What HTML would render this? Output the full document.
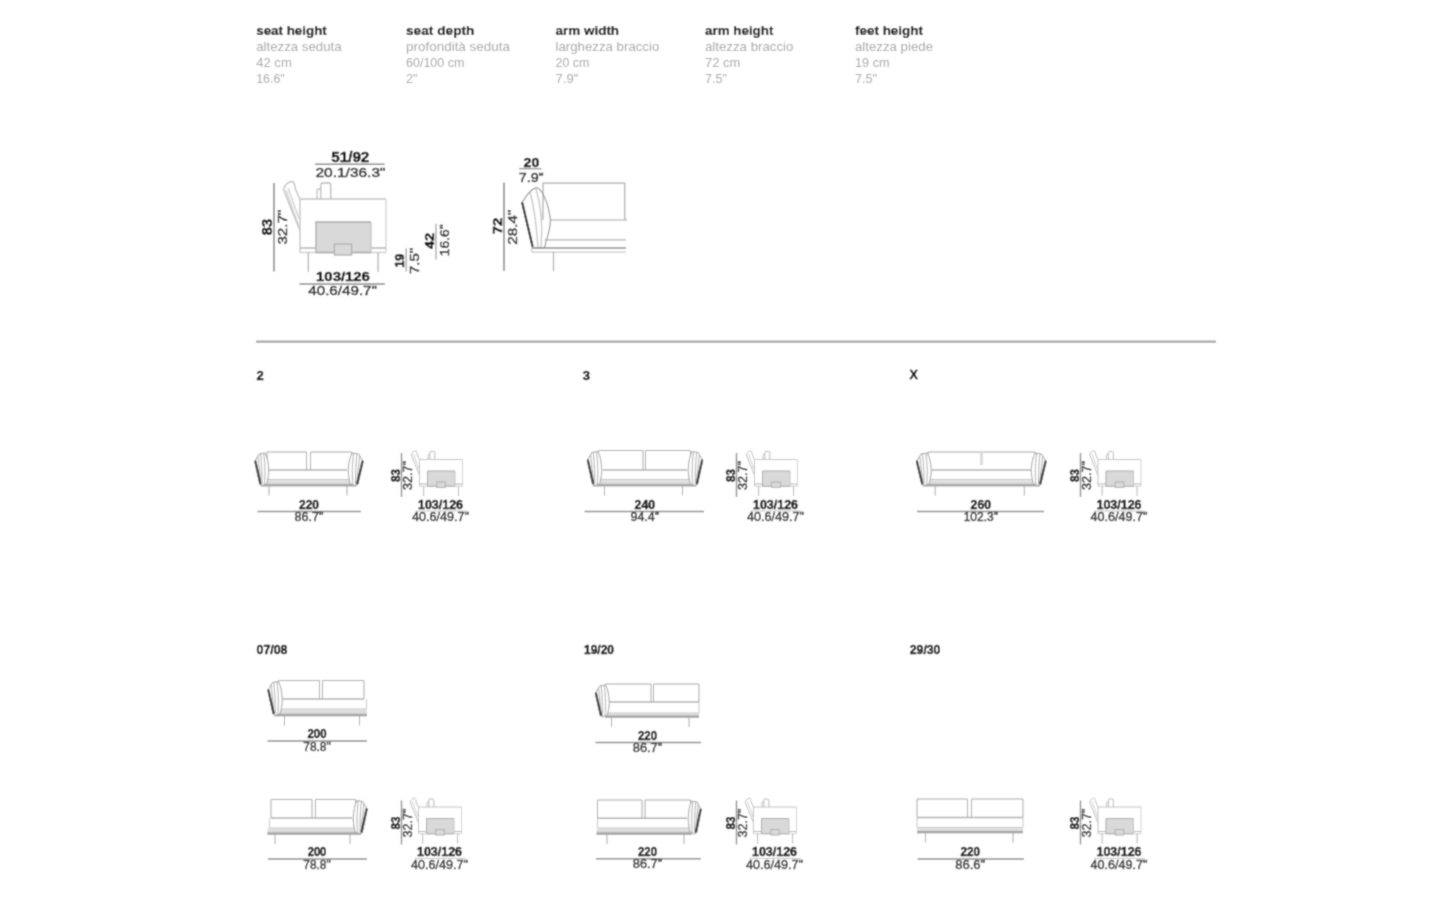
<!DOCTYPE html><html><head><meta charset="utf-8"><style>html,body{margin:0;padding:0;background:#fff;}svg{display:block;}</style></head><body>
<svg width="1440" height="900" viewBox="0 0 1440 900" font-family='"Liberation Sans", sans-serif'>
<defs><linearGradient id="band" x1="0" y1="0" x2="0" y2="1"><stop offset="0" stop-color="#ececec"/><stop offset="0.6" stop-color="#d4d4d4"/><stop offset="1" stop-color="#b4b4b4"/></linearGradient></defs>
<filter id="bl" x="0" y="0" width="1440" height="900" filterUnits="userSpaceOnUse"><feConvolveMatrix order="3" kernelMatrix="1 2 1 2 8 2 1 2 1" divisor="20" edgeMode="duplicate" preserveAlpha="false"/></filter>
<rect width="1440" height="900" fill="#ffffff"/>
<g filter="url(#bl)"><rect width="1440" height="900" fill="#ffffff"/>
<text x="256.2" y="35" font-size="13.4" font-weight="bold" fill="#000" text-anchor="start" textLength="70.6" lengthAdjust="spacingAndGlyphs" stroke="#000" stroke-width="0.15">seat height</text>
<text x="256.2" y="51" font-size="12.6" font-weight="normal" fill="#a6a6a6" text-anchor="start" textLength="85.4" lengthAdjust="spacingAndGlyphs">altezza seduta</text>
<text x="256.2" y="67" font-size="12.8" font-weight="normal" fill="#a6a6a6" text-anchor="start" textLength="35.6" lengthAdjust="spacingAndGlyphs">42 cm</text>
<text x="256.2" y="83" font-size="12.8" font-weight="normal" fill="#a6a6a6" text-anchor="start" textLength="28.5" lengthAdjust="spacingAndGlyphs">16.6&quot;</text>
<text x="406.0" y="35" font-size="13.4" font-weight="bold" fill="#000" text-anchor="start" textLength="68.4" lengthAdjust="spacingAndGlyphs" stroke="#000" stroke-width="0.15">seat depth</text>
<text x="406.0" y="51" font-size="12.6" font-weight="normal" fill="#a6a6a6" text-anchor="start" textLength="104.0" lengthAdjust="spacingAndGlyphs">profondità seduta</text>
<text x="406.0" y="67" font-size="12.8" font-weight="normal" fill="#a6a6a6" text-anchor="start" textLength="58.4" lengthAdjust="spacingAndGlyphs">60/100 cm</text>
<text x="406.0" y="83" font-size="12.8" font-weight="normal" fill="#a6a6a6" text-anchor="start" textLength="11.5" lengthAdjust="spacingAndGlyphs">2&quot;</text>
<text x="555.5" y="35" font-size="13.4" font-weight="bold" fill="#000" text-anchor="start" textLength="63.6" lengthAdjust="spacingAndGlyphs" stroke="#000" stroke-width="0.15">arm width</text>
<text x="555.5" y="51" font-size="12.6" font-weight="normal" fill="#a6a6a6" text-anchor="start" textLength="103.8" lengthAdjust="spacingAndGlyphs">larghezza braccio</text>
<text x="555.5" y="67" font-size="12.8" font-weight="normal" fill="#a6a6a6" text-anchor="start" textLength="33.8" lengthAdjust="spacingAndGlyphs">20 cm</text>
<text x="555.5" y="83" font-size="12.8" font-weight="normal" fill="#a6a6a6" text-anchor="start" textLength="22.8" lengthAdjust="spacingAndGlyphs">7.9&quot;</text>
<text x="705.0" y="35" font-size="13.4" font-weight="bold" fill="#000" text-anchor="start" textLength="68.4" lengthAdjust="spacingAndGlyphs" stroke="#000" stroke-width="0.15">arm height</text>
<text x="705.0" y="51" font-size="12.6" font-weight="normal" fill="#a6a6a6" text-anchor="start" textLength="88.4" lengthAdjust="spacingAndGlyphs">altezza braccio</text>
<text x="705.0" y="67" font-size="12.8" font-weight="normal" fill="#a6a6a6" text-anchor="start" textLength="35.2" lengthAdjust="spacingAndGlyphs">72 cm</text>
<text x="705.0" y="83" font-size="12.8" font-weight="normal" fill="#a6a6a6" text-anchor="start" textLength="22.0" lengthAdjust="spacingAndGlyphs">7.5&quot;</text>
<text x="855.0" y="35" font-size="13.4" font-weight="bold" fill="#000" text-anchor="start" textLength="68.0" lengthAdjust="spacingAndGlyphs" stroke="#000" stroke-width="0.15">feet height</text>
<text x="855.0" y="51" font-size="12.6" font-weight="normal" fill="#a6a6a6" text-anchor="start" textLength="78.0" lengthAdjust="spacingAndGlyphs">altezza piede</text>
<text x="855.0" y="67" font-size="12.8" font-weight="normal" fill="#a6a6a6" text-anchor="start" textLength="34.6" lengthAdjust="spacingAndGlyphs">19 cm</text>
<text x="855.0" y="83" font-size="12.8" font-weight="normal" fill="#a6a6a6" text-anchor="start" textLength="22.0" lengthAdjust="spacingAndGlyphs">7.5&quot;</text>
<g transform="translate(300,199) scale(1.0)" fill="none" stroke="#c0c0c0" stroke-width="1.3">
<path d="M-0.3,31 L-16.6,-9.6 C-15,-15 -11,-17.5 -8.3,-17.5 C-6,-17.5 -5,-14 -4.7,-10.3 L-0.3,-0.2" stroke="#bdbdbd"/>
<path d="M-14.2,-9 L-1.6,26 M-12,-11 L-0.8,20" stroke="#cdcdcd"/>
<path d="M0,53.5 L0,0 L86,0" stroke="#c2c2c2"/>
<path d="M86,0 L86,53.5" stroke="#d2d2d2"/>
<path d="M0,49 L16,49 M71,49 L86,49" stroke="#b4b4b4"/>
<path d="M0,53.5 L86,53.5" stroke="#d0d0d0"/>
<rect x="16" y="23" width="55" height="30.5" fill="#d9d9d9" stroke="none"/>
<path d="M16,53.5 L16,23 L71,23 M16,53.5 L71,53.5" stroke="#a9a9a9"/>
<path d="M71,23 L71,53.5" stroke="#c4c4c4"/>
<rect x="34.4" y="45" width="17.2" height="11" fill="#d9d9d9" stroke="#b0b0b0"/>
<path d="M20.8,0 L20.8,-14 Q20.8,-16 22.8,-16 L28.7,-16 Q30.7,-16 30.7,-14 L30.7,0" stroke="#b8b8b8"/>
<path d="M17,0 L17,-9 Q17,-10 18,-10 L21,-10" stroke="#c0c0c0"/>
<path d="M8.3,53.5 L8.3,73 M78.1,53.5 L78.1,73" stroke="#b4b4b4"/>
</g>
<line x1="274" y1="183" x2="274" y2="271.5" stroke="#8a8a8a" stroke-width="1.6"/>
<text transform="translate(271.8,235.2) rotate(-90)" font-size="13.8" font-weight="bold" fill="#050505" text-anchor="start" textLength="16.2" lengthAdjust="spacingAndGlyphs" stroke="#050505" stroke-width="0.4">83</text>
<text transform="translate(287.0,244.6) rotate(-90)" font-size="13.4" font-weight="normal" fill="#262626" text-anchor="start" textLength="35" lengthAdjust="spacingAndGlyphs" stroke="#262626" stroke-width="0.45">32.7&quot;</text>
<text x="350.3" y="161.9" font-size="13.8" font-weight="bold" fill="#050505" text-anchor="middle" textLength="38" lengthAdjust="spacingAndGlyphs" stroke="#050505" stroke-width="0.4">51/92</text>
<line x1="315" y1="164.2" x2="384.5" y2="164.2" stroke="#8a8a8a" stroke-width="1.4"/>
<text x="350.5" y="176.7" font-size="13.6" font-weight="normal" fill="#262626" text-anchor="middle" textLength="70" lengthAdjust="spacingAndGlyphs" stroke="#262626" stroke-width="0.45">20.1/36.3&quot;</text>
<text x="343" y="280.8" font-size="13" font-weight="bold" fill="#050505" text-anchor="middle" textLength="53.8" lengthAdjust="spacingAndGlyphs" stroke="#050505" stroke-width="0.4">103/126</text>
<line x1="299.5" y1="284" x2="385" y2="284" stroke="#8a8a8a" stroke-width="1.4"/>
<text x="342.6" y="295.4" font-size="13" font-weight="normal" fill="#262626" text-anchor="middle" textLength="68.7" lengthAdjust="spacingAndGlyphs" stroke="#262626" stroke-width="0.45">40.6/49.7&quot;</text>
<line x1="406.2" y1="248.3" x2="406.2" y2="271.4" stroke="#9a9a9a" stroke-width="1.2"/>
<text transform="translate(403.6,267.8) rotate(-90)" font-size="13.5" font-weight="bold" fill="#050505" text-anchor="start" textLength="14.2" lengthAdjust="spacingAndGlyphs" stroke="#050505" stroke-width="0.4">19</text>
<text transform="translate(419,274) rotate(-90)" font-size="13.2" font-weight="normal" fill="#262626" text-anchor="start" textLength="26" lengthAdjust="spacingAndGlyphs" stroke="#262626" stroke-width="0.45">7.5&quot;</text>
<line x1="436" y1="223.8" x2="436" y2="259.8" stroke="#9a9a9a" stroke-width="1.2"/>
<text transform="translate(434.3,249.1) rotate(-90)" font-size="13.5" font-weight="bold" fill="#050505" text-anchor="start" textLength="16.4" lengthAdjust="spacingAndGlyphs" stroke="#050505" stroke-width="0.4">42</text>
<text transform="translate(449.4,256.3) rotate(-90)" font-size="13.2" font-weight="normal" fill="#262626" text-anchor="start" textLength="32" lengthAdjust="spacingAndGlyphs" stroke="#262626" stroke-width="0.45">16.6&quot;</text>
<text x="531.4" y="166.7" font-size="13.6" font-weight="bold" fill="#050505" text-anchor="middle" textLength="15.7" lengthAdjust="spacingAndGlyphs" stroke="#050505" stroke-width="0.4">20</text>
<line x1="519" y1="168.7" x2="541.5" y2="168.7" stroke="#8a8a8a" stroke-width="1.2"/>
<text x="531.2" y="181.7" font-size="13.6" font-weight="normal" fill="#262626" text-anchor="middle" textLength="25" lengthAdjust="spacingAndGlyphs" stroke="#262626" stroke-width="0.45">7.9&quot;</text>
<line x1="504" y1="182.5" x2="504" y2="271" stroke="#8a8a8a" stroke-width="1.6"/>
<text transform="translate(501.7,234.2) rotate(-90)" font-size="13.6" font-weight="bold" fill="#050505" text-anchor="start" textLength="16.5" lengthAdjust="spacingAndGlyphs" stroke="#050505" stroke-width="0.4">72</text>
<text transform="translate(516.7,244.7) rotate(-90)" font-size="13.2" font-weight="normal" fill="#262626" text-anchor="start" textLength="35.2" lengthAdjust="spacingAndGlyphs" stroke="#262626" stroke-width="0.45">28.4&quot;</text>
<g fill="none" stroke="#a8a8a8" stroke-width="1.2">
<path d="M543,220 L543,183.2 L624.7,183.2 L624.7,218 L626,220 L550,220"/>
<path d="M522,202.7 C526,196 531,189 536.2,187.7 C541,188 548,200 550.5,220 C550,232 546,241 544.5,247.5 L532.5,248 Z" stroke="#9a9a9a"/>
<path d="M530,192 C535,210 537,232 538,247 M536,189 C541,205 543,225 541,247" stroke="#c0c0c0"/>
<path d="M522.3,203 L532.5,246" stroke="#1a1a1a" stroke-width="2.1" stroke-linecap="round"/>
<path d="M544.5,239.8 L626,239.8" stroke="#b0b0b0"/>
<path d="M532.5,248.1 L626,248.1" stroke="#8c8c8c" stroke-width="1.5"/>
<path d="M531.7,252.2 L626,252.2 M531.7,248 L531.7,252.2" stroke="#c8c8c8"/>
<path d="M553.5,252 L553.5,271"/>
</g>
<line x1="256" y1="341.6" x2="1216" y2="341.6" stroke="#a6a6a6" stroke-width="2.2"/>
<text x="256.5" y="379.8" font-size="13" font-weight="bold" fill="#050505" text-anchor="start" stroke="#050505" stroke-width="0.4">2</text>
<text x="582.8" y="379.8" font-size="13" font-weight="bold" fill="#050505" text-anchor="start" stroke="#050505" stroke-width="0.4">3</text>
<text x="909.4" y="379.3" font-size="12.6" font-weight="bold" fill="#050505" text-anchor="start" stroke="#050505" stroke-width="0.4">X</text>
<text x="256.5" y="654.2" font-size="12.6" font-weight="bold" fill="#050505" text-anchor="start" textLength="31" lengthAdjust="spacingAndGlyphs" stroke="#050505" stroke-width="0.4">07/08</text>
<text x="584.0" y="654.2" font-size="12.6" font-weight="bold" fill="#050505" text-anchor="start" textLength="30" lengthAdjust="spacingAndGlyphs" stroke="#050505" stroke-width="0.4">19/20</text>
<text x="909.8" y="654.2" font-size="12.6" font-weight="bold" fill="#050505" text-anchor="start" textLength="30.6" lengthAdjust="spacingAndGlyphs" stroke="#050505" stroke-width="0.4">29/30</text>
<g fill="none" stroke="#a8a8a8" stroke-width="1">
<path d="M267,470 L267,452 L306.5,452 L306.5,470 M310.5,470 L310.5,452 L352,452 L352,470"/>
<path d="M269,470 L347,470" stroke="#b0b0b0" stroke-width="1.4"/>
<path d="M266,470 L266,479.5 M350,470 L350,479.5" stroke="#c8c8c8"/>
<rect x="261" y="479.5" width="95" height="7.099999999999989" fill="url(#band)" stroke="none"/>
<path d="M266,479.5 L350,479.5" stroke="#c4c4c4" stroke-width="1"/>
<path d="M261,485.2 L356,485.2" stroke="#a4a4a4" stroke-width="1.8"/>
<path d="M269,486.09999999999997 L269,495.7 M347,486.09999999999997 L347,495.7" stroke="#a8a8a8"/>
</g>
<path d="M265.08,453.00 L259.20,453.98 L255.00,461.18 L260.04,484.72 L262.00,485.70 L266.90,483.74 C268.30,477.52 269.00,472.62 268.72,469.35 C268.30,462.81 267.60,457.90 265.08,453.00 Z" fill="#ffffff" stroke="#a0a0a0" stroke-width="1"/>
<path d="M260.60,453.98 C262.00,466.08 262.00,475.89 262.00,484.72 M263.68,453.65 C265.50,466.08 265.08,475.89 264.52,484.39 M258.08,456.27 L260.88,483.08" fill="none" stroke="#b0b0b0" stroke-width="1"/>
<path d="M255.42,461.50 L260.32,483.41" fill="none" stroke="#3a3a3a" stroke-width="2.3" stroke-linecap="round"/>
<g transform="translate(711,0) scale(-1,1)">
<path d="M358.80,453.00 L352.50,453.98 L348.00,461.18 L353.40,484.72 L355.50,485.70 L360.75,483.74 C362.25,477.52 363.00,472.62 362.70,469.35 C362.25,462.81 361.50,457.90 358.80,453.00 Z" fill="#ffffff" stroke="#a0a0a0" stroke-width="1"/>
<path d="M354.00,453.98 C355.50,466.08 355.50,475.89 355.50,484.72 M357.30,453.65 C359.25,466.08 358.80,475.89 358.20,484.39 M351.30,456.27 L354.30,483.08" fill="none" stroke="#b0b0b0" stroke-width="1"/>
<path d="M348.45,461.50 L353.70,483.41" fill="none" stroke="#3a3a3a" stroke-width="2.3" stroke-linecap="round"/>
</g>
<text x="309" y="508.5" font-size="12.2" font-weight="bold" fill="#050505" text-anchor="middle" textLength="20" lengthAdjust="spacingAndGlyphs" stroke="#050505" stroke-width="0.4">220</text>
<line x1="257.5" y1="511.5" x2="361" y2="511.5" stroke="#8c8c8c" stroke-width="1.6"/>
<text x="309" y="521.1" font-size="12.2" font-weight="normal" fill="#333" text-anchor="middle" textLength="29" lengthAdjust="spacingAndGlyphs" stroke="#333" stroke-width="0.45">86.7&quot;</text>
<g fill="none" stroke="#a8a8a8" stroke-width="1">
<path d="M598.5,470 L598.5,450.5 L643,450.5 L643,470 M645.5,470 L645.5,450.5 L690.5,450.5 L690.5,470"/>
<path d="M603,470 L687,470" stroke="#b0b0b0" stroke-width="1.4"/>
<path d="M600,470 L600,479.5 M689,470 L689,479.5" stroke="#c8c8c8"/>
<rect x="593" y="479.5" width="103" height="7.099999999999989" fill="url(#band)" stroke="none"/>
<path d="M600,479.5 L689,479.5" stroke="#c4c4c4" stroke-width="1"/>
<path d="M593,485.2 L696,485.2" stroke="#a4a4a4" stroke-width="1.8"/>
<path d="M604.5,486.09999999999997 L604.5,495.7 M682.5,486.09999999999997 L682.5,495.7" stroke="#a8a8a8"/>
</g>
<path d="M597.94,451.50 L591.85,452.53 L587.50,460.05 L592.72,484.67 L594.75,485.70 L599.83,483.65 C601.27,477.15 602.00,472.02 601.71,468.60 C601.27,461.76 600.55,456.63 597.94,451.50 Z" fill="#ffffff" stroke="#a0a0a0" stroke-width="1"/>
<path d="M593.30,452.53 C594.75,465.18 594.75,475.44 594.75,484.67 M596.49,452.18 C598.38,465.18 597.94,475.44 597.36,484.33 M590.69,454.92 L593.59,482.96" fill="none" stroke="#b0b0b0" stroke-width="1"/>
<path d="M587.93,460.39 L593.01,483.31" fill="none" stroke="#3a3a3a" stroke-width="2.3" stroke-linecap="round"/>
<g transform="translate(1390.5,0) scale(-1,1)">
<path d="M698.44,451.50 L692.35,452.53 L688.00,460.05 L693.22,484.67 L695.25,485.70 L700.33,483.65 C701.77,477.15 702.50,472.02 702.21,468.60 C701.77,461.76 701.05,456.63 698.44,451.50 Z" fill="#ffffff" stroke="#a0a0a0" stroke-width="1"/>
<path d="M693.80,452.53 C695.25,465.18 695.25,475.44 695.25,484.67 M696.99,452.18 C698.88,465.18 698.44,475.44 697.86,484.33 M691.19,454.92 L694.09,482.96" fill="none" stroke="#b0b0b0" stroke-width="1"/>
<path d="M688.43,460.39 L693.51,483.31" fill="none" stroke="#3a3a3a" stroke-width="2.3" stroke-linecap="round"/>
</g>
<text x="644.8" y="508.5" font-size="12.2" font-weight="bold" fill="#050505" text-anchor="middle" textLength="20.5" lengthAdjust="spacingAndGlyphs" stroke="#050505" stroke-width="0.4">240</text>
<line x1="584.5" y1="511.5" x2="704" y2="511.5" stroke="#8c8c8c" stroke-width="1.6"/>
<text x="644.8" y="521.1" font-size="12.2" font-weight="normal" fill="#333" text-anchor="middle" textLength="28.5" lengthAdjust="spacingAndGlyphs" stroke="#333" stroke-width="0.45">94.4&quot;</text>
<g fill="none" stroke="#a8a8a8" stroke-width="1">
<path d="M928,470 L928,452 L1035,452 L1035,470"/>
<path d="M981.5,452 L981.5,465" stroke="#dcdcdc" stroke-width="3"/>
<path d="M931.6,470 L1031,470" stroke="#b0b0b0" stroke-width="1.4"/>
<path d="M930,470 L930,479.5 M1033,470 L1033,479.5" stroke="#c8c8c8"/>
<rect x="923" y="479.5" width="117" height="7.099999999999989" fill="url(#band)" stroke="none"/>
<path d="M930,479.5 L1033,479.5" stroke="#c4c4c4" stroke-width="1"/>
<path d="M923,485.2 L1040,485.2" stroke="#a4a4a4" stroke-width="1.8"/>
<path d="M935.2,486.09999999999997 L935.2,495.7 M1024.3,486.09999999999997 L1024.3,495.7" stroke="#a8a8a8"/>
</g>
<path d="M927.30,453.00 L921.00,453.98 L916.50,461.18 L921.90,484.72 L924.00,485.70 L929.25,483.74 C930.75,477.52 931.50,472.62 931.20,469.35 C930.75,462.81 930.00,457.90 927.30,453.00 Z" fill="#ffffff" stroke="#a0a0a0" stroke-width="1"/>
<path d="M922.50,453.98 C924.00,466.08 924.00,475.89 924.00,484.72 M925.80,453.65 C927.75,466.08 927.30,475.89 926.70,484.39 M919.80,456.27 L922.80,483.08" fill="none" stroke="#b0b0b0" stroke-width="1"/>
<path d="M916.95,461.50 L922.20,483.41" fill="none" stroke="#3a3a3a" stroke-width="2.3" stroke-linecap="round"/>
<g transform="translate(2077,0) scale(-1,1)">
<path d="M1041.80,453.00 L1035.50,453.98 L1031.00,461.18 L1036.40,484.72 L1038.50,485.70 L1043.75,483.74 C1045.25,477.52 1046.00,472.62 1045.70,469.35 C1045.25,462.81 1044.50,457.90 1041.80,453.00 Z" fill="#ffffff" stroke="#a0a0a0" stroke-width="1"/>
<path d="M1037.00,453.98 C1038.50,466.08 1038.50,475.89 1038.50,484.72 M1040.30,453.65 C1042.25,466.08 1041.80,475.89 1041.20,484.39 M1034.30,456.27 L1037.30,483.08" fill="none" stroke="#b0b0b0" stroke-width="1"/>
<path d="M1031.45,461.50 L1036.70,483.41" fill="none" stroke="#3a3a3a" stroke-width="2.3" stroke-linecap="round"/>
</g>
<text x="980.8" y="508.5" font-size="12.2" font-weight="bold" fill="#050505" text-anchor="middle" textLength="20.4" lengthAdjust="spacingAndGlyphs" stroke="#050505" stroke-width="0.4">260</text>
<line x1="917" y1="511.5" x2="1044" y2="511.5" stroke="#8c8c8c" stroke-width="1.6"/>
<text x="980.8" y="521.1" font-size="12.2" font-weight="normal" fill="#333" text-anchor="middle" textLength="34.3" lengthAdjust="spacingAndGlyphs" stroke="#333" stroke-width="0.45">102.3&quot;</text>
<line x1="401.5" y1="453.0" x2="401.5" y2="497.0" stroke="#8a8a8a" stroke-width="1.4"/>
<text transform="translate(399.5,482.0) rotate(-90)" font-size="12.5" font-weight="bold" fill="#050505" text-anchor="start" textLength="13" lengthAdjust="spacingAndGlyphs" stroke="#050505" stroke-width="0.4">83</text>
<text transform="translate(412.0,490.0) rotate(-90)" font-size="12" font-weight="normal" fill="#333" text-anchor="start" textLength="29" lengthAdjust="spacingAndGlyphs" stroke="#333" stroke-width="0.45">32.7&quot;</text>
<g transform="translate(419.5,459.5) scale(0.5)" fill="none" stroke="#c0c0c0" stroke-width="2.0">
<path d="M-0.3,31 L-16.6,-9.6 C-15,-15 -11,-17.5 -8.3,-17.5 C-6,-17.5 -5,-14 -4.7,-10.3 L-0.3,-0.2" stroke="#bdbdbd"/>
<path d="M-12,-11 L-0.8,20" stroke="#d0d0d0"/>
<path d="M0,53.5 L0,0 L86,0" stroke="#c2c2c2"/>
<path d="M86,0 L86,53.5" stroke="#d2d2d2"/>
<path d="M0,49 L16,49 M71,49 L86,49" stroke="#b4b4b4"/>
<path d="M0,53.5 L86,53.5" stroke="#d0d0d0"/>
<rect x="16" y="23" width="55" height="30.5" fill="#d9d9d9" stroke="none"/>
<path d="M16,53.5 L16,23 L71,23 M16,53.5 L71,53.5" stroke="#a9a9a9"/>
<path d="M71,23 L71,53.5" stroke="#c4c4c4"/>
<rect x="34.4" y="45" width="17.2" height="11" fill="#d9d9d9" stroke="#b0b0b0"/>
<path d="M20.8,0 L20.8,-14 Q20.8,-16 22.8,-16 L28.7,-16 Q30.7,-16 30.7,-14 L30.7,0" stroke="#b8b8b8"/>
<path d="M17,0 L17,-9 Q17,-10 18,-10 L21,-10" stroke="#c0c0c0"/>
<path d="M8.3,53.5 L8.3,73 M78.1,53.5 L78.1,73" stroke="#b4b4b4"/>
</g>
<text x="440.5" y="508.5" font-size="12.2" font-weight="bold" fill="#050505" text-anchor="middle" textLength="45" lengthAdjust="spacingAndGlyphs" stroke="#050505" stroke-width="0.4">103/126</text>
<line x1="415.5" y1="511.0" x2="466.5" y2="511.0" stroke="#c8c8c8" stroke-width="1"/>
<text x="440.5" y="521.0" font-size="12.2" font-weight="normal" fill="#333" text-anchor="middle" textLength="57" lengthAdjust="spacingAndGlyphs" stroke="#333" stroke-width="0.45">40.6/49.7&quot;</text>
<line x1="736.5" y1="453.0" x2="736.5" y2="497.0" stroke="#8a8a8a" stroke-width="1.4"/>
<text transform="translate(734.5,482.0) rotate(-90)" font-size="12.5" font-weight="bold" fill="#050505" text-anchor="start" textLength="13" lengthAdjust="spacingAndGlyphs" stroke="#050505" stroke-width="0.4">83</text>
<text transform="translate(747.0,490.0) rotate(-90)" font-size="12" font-weight="normal" fill="#333" text-anchor="start" textLength="29" lengthAdjust="spacingAndGlyphs" stroke="#333" stroke-width="0.45">32.7&quot;</text>
<g transform="translate(754.5,459.5) scale(0.5)" fill="none" stroke="#c0c0c0" stroke-width="2.0">
<path d="M-0.3,31 L-16.6,-9.6 C-15,-15 -11,-17.5 -8.3,-17.5 C-6,-17.5 -5,-14 -4.7,-10.3 L-0.3,-0.2" stroke="#bdbdbd"/>
<path d="M-12,-11 L-0.8,20" stroke="#d0d0d0"/>
<path d="M0,53.5 L0,0 L86,0" stroke="#c2c2c2"/>
<path d="M86,0 L86,53.5" stroke="#d2d2d2"/>
<path d="M0,49 L16,49 M71,49 L86,49" stroke="#b4b4b4"/>
<path d="M0,53.5 L86,53.5" stroke="#d0d0d0"/>
<rect x="16" y="23" width="55" height="30.5" fill="#d9d9d9" stroke="none"/>
<path d="M16,53.5 L16,23 L71,23 M16,53.5 L71,53.5" stroke="#a9a9a9"/>
<path d="M71,23 L71,53.5" stroke="#c4c4c4"/>
<rect x="34.4" y="45" width="17.2" height="11" fill="#d9d9d9" stroke="#b0b0b0"/>
<path d="M20.8,0 L20.8,-14 Q20.8,-16 22.8,-16 L28.7,-16 Q30.7,-16 30.7,-14 L30.7,0" stroke="#b8b8b8"/>
<path d="M17,0 L17,-9 Q17,-10 18,-10 L21,-10" stroke="#c0c0c0"/>
<path d="M8.3,53.5 L8.3,73 M78.1,53.5 L78.1,73" stroke="#b4b4b4"/>
</g>
<text x="775.5" y="508.5" font-size="12.2" font-weight="bold" fill="#050505" text-anchor="middle" textLength="45" lengthAdjust="spacingAndGlyphs" stroke="#050505" stroke-width="0.4">103/126</text>
<line x1="750.5" y1="511.0" x2="801.5" y2="511.0" stroke="#c8c8c8" stroke-width="1"/>
<text x="775.5" y="521.0" font-size="12.2" font-weight="normal" fill="#333" text-anchor="middle" textLength="57" lengthAdjust="spacingAndGlyphs" stroke="#333" stroke-width="0.45">40.6/49.7&quot;</text>
<line x1="1080.5" y1="453.0" x2="1080.5" y2="497.0" stroke="#8a8a8a" stroke-width="1.4"/>
<text transform="translate(1078.5,482.0) rotate(-90)" font-size="12.5" font-weight="bold" fill="#050505" text-anchor="start" textLength="13" lengthAdjust="spacingAndGlyphs" stroke="#050505" stroke-width="0.4">83</text>
<text transform="translate(1091.0,490.0) rotate(-90)" font-size="12" font-weight="normal" fill="#333" text-anchor="start" textLength="29" lengthAdjust="spacingAndGlyphs" stroke="#333" stroke-width="0.45">32.7&quot;</text>
<g transform="translate(1098,459.5) scale(0.5)" fill="none" stroke="#c0c0c0" stroke-width="2.0">
<path d="M-0.3,31 L-16.6,-9.6 C-15,-15 -11,-17.5 -8.3,-17.5 C-6,-17.5 -5,-14 -4.7,-10.3 L-0.3,-0.2" stroke="#bdbdbd"/>
<path d="M-12,-11 L-0.8,20" stroke="#d0d0d0"/>
<path d="M0,53.5 L0,0 L86,0" stroke="#c2c2c2"/>
<path d="M86,0 L86,53.5" stroke="#d2d2d2"/>
<path d="M0,49 L16,49 M71,49 L86,49" stroke="#b4b4b4"/>
<path d="M0,53.5 L86,53.5" stroke="#d0d0d0"/>
<rect x="16" y="23" width="55" height="30.5" fill="#d9d9d9" stroke="none"/>
<path d="M16,53.5 L16,23 L71,23 M16,53.5 L71,53.5" stroke="#a9a9a9"/>
<path d="M71,23 L71,53.5" stroke="#c4c4c4"/>
<rect x="34.4" y="45" width="17.2" height="11" fill="#d9d9d9" stroke="#b0b0b0"/>
<path d="M20.8,0 L20.8,-14 Q20.8,-16 22.8,-16 L28.7,-16 Q30.7,-16 30.7,-14 L30.7,0" stroke="#b8b8b8"/>
<path d="M17,0 L17,-9 Q17,-10 18,-10 L21,-10" stroke="#c0c0c0"/>
<path d="M8.3,53.5 L8.3,73 M78.1,53.5 L78.1,73" stroke="#b4b4b4"/>
</g>
<text x="1119" y="508.5" font-size="12.2" font-weight="bold" fill="#050505" text-anchor="middle" textLength="45" lengthAdjust="spacingAndGlyphs" stroke="#050505" stroke-width="0.4">103/126</text>
<line x1="1094" y1="511.0" x2="1145" y2="511.0" stroke="#c8c8c8" stroke-width="1"/>
<text x="1119" y="521.0" font-size="12.2" font-weight="normal" fill="#333" text-anchor="middle" textLength="57" lengthAdjust="spacingAndGlyphs" stroke="#333" stroke-width="0.45">40.6/49.7&quot;</text>
<g fill="none" stroke="#a8a8a8" stroke-width="1">
<path d="M278.5,699 L278.5,680.5 L319.5,680.5 L319.5,699 M322.5,699 L322.5,680.5 L364,680.5 L364,699"/>
<path d="M282,699 L364,699" stroke="#b0b0b0" stroke-width="1.4"/>
<path d="M280,699 L280,709 M366.5,699 L366.5,709" stroke="#c8c8c8"/>
<rect x="274" y="709" width="93" height="7.4" fill="url(#band)" stroke="none"/>
<path d="M280,709 L366.5,709" stroke="#c4c4c4" stroke-width="1"/>
<path d="M274,715 L367,715" stroke="#a4a4a4" stroke-width="1.8"/>
<path d="M284.5,715.9 L284.5,725.5 M359.5,715.9 L359.5,725.5" stroke="#a8a8a8"/>
</g>
<path d="M278.44,681.50 L272.35,682.52 L268.00,690.00 L273.22,714.48 L275.25,715.50 L280.32,713.46 C281.77,707.00 282.50,701.90 282.21,698.50 C281.77,691.70 281.05,686.60 278.44,681.50 Z" fill="#ffffff" stroke="#a0a0a0" stroke-width="1"/>
<path d="M273.80,682.52 C275.25,695.10 275.25,705.30 275.25,714.48 M276.99,682.18 C278.88,695.10 278.44,705.30 277.86,714.14 M271.19,684.90 L274.09,712.78" fill="none" stroke="#b0b0b0" stroke-width="1"/>
<path d="M268.44,690.34 L273.51,713.12" fill="none" stroke="#3a3a3a" stroke-width="2.3" stroke-linecap="round"/>
<text x="317" y="738" font-size="12.2" font-weight="bold" fill="#050505" text-anchor="middle" textLength="19" lengthAdjust="spacingAndGlyphs" stroke="#050505" stroke-width="0.4">200</text>
<line x1="267.5" y1="741" x2="367" y2="741" stroke="#8c8c8c" stroke-width="1.6"/>
<text x="317" y="750.6" font-size="12.2" font-weight="normal" fill="#333" text-anchor="middle" textLength="27.5" lengthAdjust="spacingAndGlyphs" stroke="#333" stroke-width="0.45">78.8&quot;</text>
<g fill="none" stroke="#a8a8a8" stroke-width="1">
<path d="M605.5,702 L605.5,684 L651,684 L651,702 M653.5,702 L653.5,684 L699,684 L699,702"/>
<path d="M610,702 L699,702" stroke="#b0b0b0" stroke-width="1.4"/>
<path d="M606,702 L606,713 M699,702 L699,713" stroke="#c8c8c8"/>
<rect x="605" y="713" width="94" height="4.9" fill="url(#band)" stroke="none"/>
<path d="M606,713 L699,713" stroke="#c4c4c4" stroke-width="1"/>
<path d="M605,716.5 L699,716.5" stroke="#a4a4a4" stroke-width="1.8"/>
<path d="M611.5,717.4 L611.5,727.0 M689,717.4 L689,727.0" stroke="#a8a8a8"/>
</g>
<path d="M605.58,685.00 L599.70,685.96 L595.50,693.00 L600.54,716.04 L602.50,717.00 L607.40,715.08 C608.80,709.00 609.50,704.20 609.22,701.00 C608.80,694.60 608.10,689.80 605.58,685.00 Z" fill="#ffffff" stroke="#a0a0a0" stroke-width="1"/>
<path d="M601.10,685.96 C602.50,697.80 602.50,707.40 602.50,716.04 M604.18,685.64 C606.00,697.80 605.58,707.40 605.02,715.72 M598.58,688.20 L601.38,714.44" fill="none" stroke="#b0b0b0" stroke-width="1"/>
<path d="M595.92,693.32 L600.82,714.76" fill="none" stroke="#3a3a3a" stroke-width="2.3" stroke-linecap="round"/>
<text x="647.5" y="739.5" font-size="12.2" font-weight="bold" fill="#050505" text-anchor="middle" textLength="19" lengthAdjust="spacingAndGlyphs" stroke="#050505" stroke-width="0.4">220</text>
<line x1="595.5" y1="742.5" x2="701" y2="742.5" stroke="#8c8c8c" stroke-width="1.6"/>
<text x="647.5" y="752.1" font-size="12.2" font-weight="normal" fill="#333" text-anchor="middle" textLength="29.5" lengthAdjust="spacingAndGlyphs" stroke="#333" stroke-width="0.45">86.7&quot;</text>
<g fill="none" stroke="#a8a8a8" stroke-width="1">
<path d="M271,818 L271,799.5 L312,799.5 L312,818 M315.5,818 L315.5,799.5 L355.5,799.5 L355.5,818"/>
<path d="M271,818 L352,818" stroke="#b0b0b0" stroke-width="1.4"/>
<path d="M269.5,818 L269.5,828 M354,818 L354,828" stroke="#c8c8c8"/>
<rect x="267.5" y="828" width="93.5" height="6.9" fill="url(#band)" stroke="none"/>
<path d="M269.5,828 L354,828" stroke="#c4c4c4" stroke-width="1"/>
<path d="M267.5,833.5 L361,833.5" stroke="#a4a4a4" stroke-width="1.8"/>
<path d="M275,834.4 L275,844.0 M350,834.4 L350,844.0" stroke="#a8a8a8"/>
</g>
<g transform="translate(720,0) scale(-1,1)">
<path d="M363.08,800.50 L357.20,801.50 L353.00,808.88 L358.04,833.00 L360.00,834.00 L364.90,831.99 C366.30,825.62 367.00,820.60 366.72,817.25 C366.30,810.55 365.60,805.52 363.08,800.50 Z" fill="#ffffff" stroke="#a0a0a0" stroke-width="1"/>
<path d="M358.60,801.50 C360.00,813.90 360.00,823.95 360.00,833.00 M361.68,801.17 C363.50,813.90 363.08,823.95 362.52,832.66 M356.08,803.85 L358.88,831.32" fill="none" stroke="#b0b0b0" stroke-width="1"/>
<path d="M353.42,809.21 L358.32,831.65" fill="none" stroke="#3a3a3a" stroke-width="2.3" stroke-linecap="round"/>
</g>
<text x="317" y="856" font-size="12.2" font-weight="bold" fill="#050505" text-anchor="middle" textLength="18.5" lengthAdjust="spacingAndGlyphs" stroke="#050505" stroke-width="0.4">200</text>
<line x1="268" y1="859" x2="367" y2="859" stroke="#8c8c8c" stroke-width="1.6"/>
<text x="317" y="868.6" font-size="12.2" font-weight="normal" fill="#333" text-anchor="middle" textLength="27.5" lengthAdjust="spacingAndGlyphs" stroke="#333" stroke-width="0.45">78.8&quot;</text>
<g fill="none" stroke="#a8a8a8" stroke-width="1">
<path d="M597.5,818.3 L597.5,800 L642,800 L642,818.3 M645,818.3 L645,800 L690.5,800 L690.5,818.3"/>
<path d="M597.5,818.3 L687,818.3" stroke="#b0b0b0" stroke-width="1.4"/>
<path d="M597.5,818.3 L597.5,828 M689,818.3 L689,828" stroke="#c8c8c8"/>
<rect x="596.5" y="828" width="95.5" height="6.9" fill="url(#band)" stroke="none"/>
<path d="M597.5,828 L689,828" stroke="#c4c4c4" stroke-width="1"/>
<path d="M596.5,833.5 L692,833.5" stroke="#a4a4a4" stroke-width="1.8"/>
<path d="M607,834.4 L607,844.0 M684,834.4 L684,844.0" stroke="#a8a8a8"/>
</g>
<g transform="translate(1389,0) scale(-1,1)">
<path d="M697.36,801.00 L691.90,801.99 L688.00,809.25 L692.68,833.01 L694.50,834.00 L699.05,832.02 C700.35,825.75 701.00,820.80 700.74,817.50 C700.35,810.90 699.70,805.95 697.36,801.00 Z" fill="#ffffff" stroke="#a0a0a0" stroke-width="1"/>
<path d="M693.20,801.99 C694.50,814.20 694.50,824.10 694.50,833.01 M696.06,801.66 C697.75,814.20 697.36,824.10 696.84,832.68 M690.86,804.30 L693.46,831.36" fill="none" stroke="#b0b0b0" stroke-width="1"/>
<path d="M688.39,809.58 L692.94,831.69" fill="none" stroke="#3a3a3a" stroke-width="2.3" stroke-linecap="round"/>
</g>
<text x="647.5" y="855.8" font-size="12.2" font-weight="bold" fill="#050505" text-anchor="middle" textLength="19" lengthAdjust="spacingAndGlyphs" stroke="#050505" stroke-width="0.4">220</text>
<line x1="596" y1="858.8" x2="701" y2="858.8" stroke="#8c8c8c" stroke-width="1.6"/>
<text x="647.5" y="868.4" font-size="12.2" font-weight="normal" fill="#333" text-anchor="middle" textLength="29.5" lengthAdjust="spacingAndGlyphs" stroke="#333" stroke-width="0.45">86.7&quot;</text>
<g fill="none" stroke="#a8a8a8" stroke-width="1">
<path d="M917,817.5 L917,799 L967.5,799 L967.5,817.5 M971.5,817.5 L971.5,799 L1023,799 L1023,817.5"/>
<path d="M917,817.5 L1023,817.5" stroke="#b0b0b0" stroke-width="1.4"/>
<path d="M917,817.5 L917,827.5 M1023,817.5 L1023,827.5" stroke="#c8c8c8"/>
<rect x="917" y="827.5" width="106" height="5.9" fill="url(#band)" stroke="none"/>
<path d="M917,827.5 L1023,827.5" stroke="#c4c4c4" stroke-width="1"/>
<path d="M917,832 L1023,832" stroke="#a4a4a4" stroke-width="1.8"/>
<path d="M925.5,832.9 L925.5,842.5 M1013,832.9 L1013,842.5" stroke="#a8a8a8"/>
</g>
<text x="970.2" y="856" font-size="12.2" font-weight="bold" fill="#050505" text-anchor="middle" textLength="19.5" lengthAdjust="spacingAndGlyphs" stroke="#050505" stroke-width="0.4">220</text>
<line x1="917.5" y1="859" x2="1024" y2="859" stroke="#8c8c8c" stroke-width="1.6"/>
<text x="970.2" y="868.6" font-size="12.2" font-weight="normal" fill="#333" text-anchor="middle" textLength="30" lengthAdjust="spacingAndGlyphs" stroke="#333" stroke-width="0.45">86.6&quot;</text>
<line x1="401.5" y1="800.5" x2="401.5" y2="844.5" stroke="#8a8a8a" stroke-width="1.4"/>
<text transform="translate(399.5,829.5) rotate(-90)" font-size="12.5" font-weight="bold" fill="#050505" text-anchor="start" textLength="13" lengthAdjust="spacingAndGlyphs" stroke="#050505" stroke-width="0.4">83</text>
<text transform="translate(412.0,837.5) rotate(-90)" font-size="12" font-weight="normal" fill="#333" text-anchor="start" textLength="29" lengthAdjust="spacingAndGlyphs" stroke="#333" stroke-width="0.45">32.7&quot;</text>
<g transform="translate(418.5,807) scale(0.5)" fill="none" stroke="#c0c0c0" stroke-width="2.0">
<path d="M-0.3,31 L-16.6,-9.6 C-15,-15 -11,-17.5 -8.3,-17.5 C-6,-17.5 -5,-14 -4.7,-10.3 L-0.3,-0.2" stroke="#bdbdbd"/>
<path d="M-12,-11 L-0.8,20" stroke="#d0d0d0"/>
<path d="M0,53.5 L0,0 L86,0" stroke="#c2c2c2"/>
<path d="M86,0 L86,53.5" stroke="#d2d2d2"/>
<path d="M0,49 L16,49 M71,49 L86,49" stroke="#b4b4b4"/>
<path d="M0,53.5 L86,53.5" stroke="#d0d0d0"/>
<rect x="16" y="23" width="55" height="30.5" fill="#d9d9d9" stroke="none"/>
<path d="M16,53.5 L16,23 L71,23 M16,53.5 L71,53.5" stroke="#a9a9a9"/>
<path d="M71,23 L71,53.5" stroke="#c4c4c4"/>
<rect x="34.4" y="45" width="17.2" height="11" fill="#d9d9d9" stroke="#b0b0b0"/>
<path d="M20.8,0 L20.8,-14 Q20.8,-16 22.8,-16 L28.7,-16 Q30.7,-16 30.7,-14 L30.7,0" stroke="#b8b8b8"/>
<path d="M17,0 L17,-9 Q17,-10 18,-10 L21,-10" stroke="#c0c0c0"/>
<path d="M8.3,53.5 L8.3,73 M78.1,53.5 L78.1,73" stroke="#b4b4b4"/>
</g>
<text x="439.5" y="856" font-size="12.2" font-weight="bold" fill="#050505" text-anchor="middle" textLength="45" lengthAdjust="spacingAndGlyphs" stroke="#050505" stroke-width="0.4">103/126</text>
<line x1="414.5" y1="858.5" x2="465.5" y2="858.5" stroke="#c8c8c8" stroke-width="1"/>
<text x="439.5" y="868.5" font-size="12.2" font-weight="normal" fill="#333" text-anchor="middle" textLength="57" lengthAdjust="spacingAndGlyphs" stroke="#333" stroke-width="0.45">40.6/49.7&quot;</text>
<line x1="736.5" y1="800.5" x2="736.5" y2="844.5" stroke="#8a8a8a" stroke-width="1.4"/>
<text transform="translate(734.5,829.5) rotate(-90)" font-size="12.5" font-weight="bold" fill="#050505" text-anchor="start" textLength="13" lengthAdjust="spacingAndGlyphs" stroke="#050505" stroke-width="0.4">83</text>
<text transform="translate(747.0,837.5) rotate(-90)" font-size="12" font-weight="normal" fill="#333" text-anchor="start" textLength="29" lengthAdjust="spacingAndGlyphs" stroke="#333" stroke-width="0.45">32.7&quot;</text>
<g transform="translate(753.5,807) scale(0.5)" fill="none" stroke="#c0c0c0" stroke-width="2.0">
<path d="M-0.3,31 L-16.6,-9.6 C-15,-15 -11,-17.5 -8.3,-17.5 C-6,-17.5 -5,-14 -4.7,-10.3 L-0.3,-0.2" stroke="#bdbdbd"/>
<path d="M-12,-11 L-0.8,20" stroke="#d0d0d0"/>
<path d="M0,53.5 L0,0 L86,0" stroke="#c2c2c2"/>
<path d="M86,0 L86,53.5" stroke="#d2d2d2"/>
<path d="M0,49 L16,49 M71,49 L86,49" stroke="#b4b4b4"/>
<path d="M0,53.5 L86,53.5" stroke="#d0d0d0"/>
<rect x="16" y="23" width="55" height="30.5" fill="#d9d9d9" stroke="none"/>
<path d="M16,53.5 L16,23 L71,23 M16,53.5 L71,53.5" stroke="#a9a9a9"/>
<path d="M71,23 L71,53.5" stroke="#c4c4c4"/>
<rect x="34.4" y="45" width="17.2" height="11" fill="#d9d9d9" stroke="#b0b0b0"/>
<path d="M20.8,0 L20.8,-14 Q20.8,-16 22.8,-16 L28.7,-16 Q30.7,-16 30.7,-14 L30.7,0" stroke="#b8b8b8"/>
<path d="M17,0 L17,-9 Q17,-10 18,-10 L21,-10" stroke="#c0c0c0"/>
<path d="M8.3,53.5 L8.3,73 M78.1,53.5 L78.1,73" stroke="#b4b4b4"/>
</g>
<text x="774.5" y="856" font-size="12.2" font-weight="bold" fill="#050505" text-anchor="middle" textLength="45" lengthAdjust="spacingAndGlyphs" stroke="#050505" stroke-width="0.4">103/126</text>
<line x1="749.5" y1="858.5" x2="800.5" y2="858.5" stroke="#c8c8c8" stroke-width="1"/>
<text x="774.5" y="868.5" font-size="12.2" font-weight="normal" fill="#333" text-anchor="middle" textLength="57" lengthAdjust="spacingAndGlyphs" stroke="#333" stroke-width="0.45">40.6/49.7&quot;</text>
<line x1="1080.5" y1="800.5" x2="1080.5" y2="844.5" stroke="#8a8a8a" stroke-width="1.4"/>
<text transform="translate(1078.5,829.5) rotate(-90)" font-size="12.5" font-weight="bold" fill="#050505" text-anchor="start" textLength="13" lengthAdjust="spacingAndGlyphs" stroke="#050505" stroke-width="0.4">83</text>
<text transform="translate(1091.0,837.5) rotate(-90)" font-size="12" font-weight="normal" fill="#333" text-anchor="start" textLength="29" lengthAdjust="spacingAndGlyphs" stroke="#333" stroke-width="0.45">32.7&quot;</text>
<g transform="translate(1098,807) scale(0.5)" fill="none" stroke="#c0c0c0" stroke-width="2.0">
<path d="M-0.3,31 L-16.6,-9.6 C-15,-15 -11,-17.5 -8.3,-17.5 C-6,-17.5 -5,-14 -4.7,-10.3 L-0.3,-0.2" stroke="#bdbdbd"/>
<path d="M-12,-11 L-0.8,20" stroke="#d0d0d0"/>
<path d="M0,53.5 L0,0 L86,0" stroke="#c2c2c2"/>
<path d="M86,0 L86,53.5" stroke="#d2d2d2"/>
<path d="M0,49 L16,49 M71,49 L86,49" stroke="#b4b4b4"/>
<path d="M0,53.5 L86,53.5" stroke="#d0d0d0"/>
<rect x="16" y="23" width="55" height="30.5" fill="#d9d9d9" stroke="none"/>
<path d="M16,53.5 L16,23 L71,23 M16,53.5 L71,53.5" stroke="#a9a9a9"/>
<path d="M71,23 L71,53.5" stroke="#c4c4c4"/>
<rect x="34.4" y="45" width="17.2" height="11" fill="#d9d9d9" stroke="#b0b0b0"/>
<path d="M20.8,0 L20.8,-14 Q20.8,-16 22.8,-16 L28.7,-16 Q30.7,-16 30.7,-14 L30.7,0" stroke="#b8b8b8"/>
<path d="M17,0 L17,-9 Q17,-10 18,-10 L21,-10" stroke="#c0c0c0"/>
<path d="M8.3,53.5 L8.3,73 M78.1,53.5 L78.1,73" stroke="#b4b4b4"/>
</g>
<text x="1119" y="856" font-size="12.2" font-weight="bold" fill="#050505" text-anchor="middle" textLength="45" lengthAdjust="spacingAndGlyphs" stroke="#050505" stroke-width="0.4">103/126</text>
<line x1="1094" y1="858.5" x2="1145" y2="858.5" stroke="#c8c8c8" stroke-width="1"/>
<text x="1119" y="868.5" font-size="12.2" font-weight="normal" fill="#333" text-anchor="middle" textLength="57" lengthAdjust="spacingAndGlyphs" stroke="#333" stroke-width="0.45">40.6/49.7&quot;</text>
</g></svg></body></html>
